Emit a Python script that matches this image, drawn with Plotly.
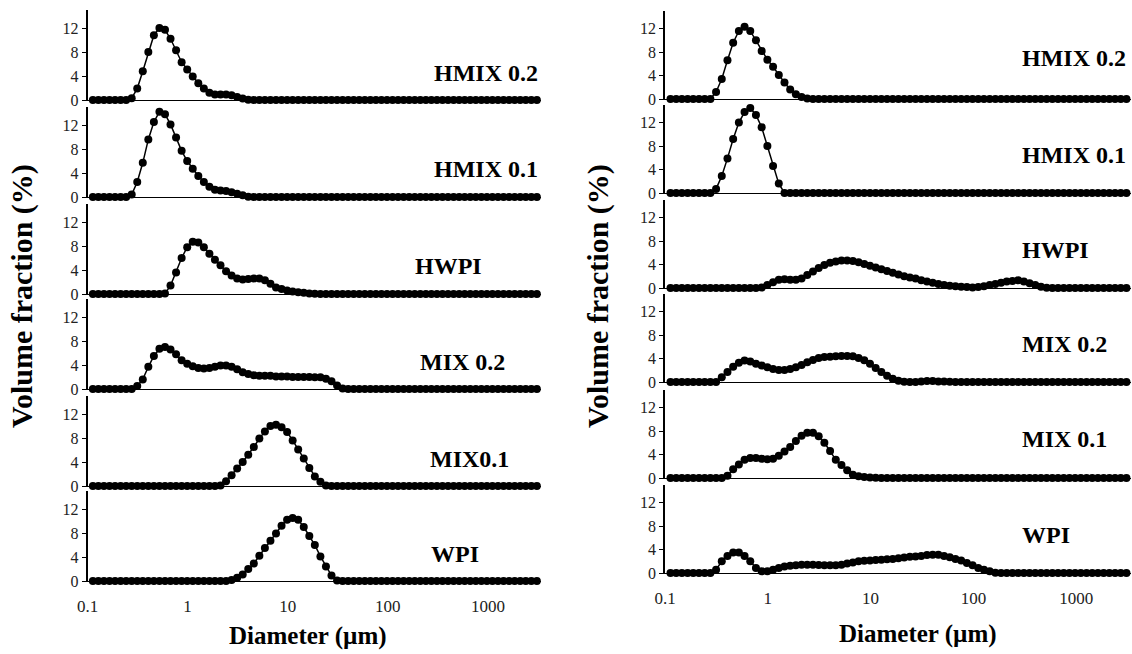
import plotly.graph_objects as go

# ---------------- data ----------------
diameter_um = [
    0.1131, 0.1285, 0.1460, 0.1659, 0.1884, 0.2141, 0.2432, 0.2763, 0.3139, 0.3566,
    0.4052, 0.4603, 0.5230, 0.5942, 0.6750, 0.7669, 0.8714, 0.9905, 1.125, 1.279,
    1.453, 1.651, 1.875, 2.131, 2.421, 2.750, 3.125, 3.550, 4.034, 4.583,
    5.207, 5.916, 6.721, 7.636, 8.676, 9.858, 11.20, 12.72, 14.46, 16.43,
    18.66, 21.21, 24.09, 27.37, 31.11, 35.34, 40.15, 45.61, 51.82, 58.88,
    66.90, 76.01, 86.36, 98.12, 111.5, 126.6, 143.9, 163.5, 185.8, 211.0,
    239.8, 272.4, 309.5, 351.7, 399.6, 454.0, 515.8, 586.0, 665.8, 756.5,
    859.5, 976.5, 1109, 1261, 1432, 1627, 1849, 2101, 2387, 2712,
    3081,
]

x_tick_values = [0.1, 1, 10, 100, 1000]
x_tick_labels = ["0.1", "1", "10", "100", "1000"]
y_tick_values = [0, 4, 8, 12]

left_labels = ["HMIX 0.2", "HMIX 0.1", "HWPI", "MIX 0.2", "MIX0.1", "WPI"]
right_labels = ["HMIX 0.2", "HMIX 0.1", "HWPI", "MIX 0.2", "MIX 0.1", "WPI"]

left_hmix02 = [
    0, 0, 0, 0, 0, 0, 0,
    0.3, 1.9, 4.8, 8.0, 10.8, 12.0, 11.7, 10.2, 8.3, 6.3, 5.1, 3.9, 2.8, 1.9, 1.2,
    0.9, 0.9, 0.9, 0.8, 0.5, 0.25, 0.05,
    0, 0, 0, 0, 0, 0, 0, 0, 0, 0,
    0, 0, 0, 0, 0, 0, 0, 0, 0, 0,
    0, 0, 0, 0, 0, 0, 0, 0, 0, 0,
    0, 0, 0, 0, 0, 0, 0, 0, 0, 0,
    0, 0, 0, 0, 0, 0, 0, 0, 0, 0,
    0, 0,
]
left_hmix01 = [
    0, 0, 0, 0, 0, 0, 0,
    0.4, 2.5, 5.7, 9.6, 12.5, 14.2, 13.8, 12.1, 9.9, 7.7, 6.0, 4.7, 3.5, 2.5, 1.7,
    1.2, 1.1, 1.0, 0.8, 0.55, 0.3, 0.05,
    0, 0, 0, 0, 0, 0, 0, 0, 0, 0,
    0, 0, 0, 0, 0, 0, 0, 0, 0, 0,
    0, 0, 0, 0, 0, 0, 0, 0, 0, 0,
    0, 0, 0, 0, 0, 0, 0, 0, 0, 0,
    0, 0, 0, 0, 0, 0, 0, 0, 0, 0,
    0, 0,
]
left_hwpi = [
    0, 0, 0, 0, 0, 0, 0, 0, 0, 0, 0, 0, 0,
    0.1, 1.4, 3.6, 6.0, 7.8, 8.7, 8.6, 7.8, 6.7, 5.7, 4.8, 3.8, 3.1, 2.6,
    2.4, 2.5, 2.6, 2.6, 2.3, 1.7, 1.1, 0.85, 0.6, 0.4, 0.3, 0.2, 0.1, 0.05,
    0, 0, 0, 0, 0, 0, 0, 0, 0, 0,
    0, 0, 0, 0, 0, 0, 0, 0, 0, 0,
    0, 0, 0, 0, 0, 0, 0, 0, 0, 0,
    0, 0, 0, 0, 0, 0, 0, 0, 0, 0,
]
left_mix02 = [
    0, 0, 0, 0, 0, 0, 0, 0,
    0.5, 1.6, 3.7, 5.5, 6.7, 7.0, 6.6, 5.8, 4.8, 4.2, 3.8, 3.5, 3.4, 3.5, 3.7,
    3.9, 3.9, 3.7, 3.3, 2.8, 2.5, 2.3, 2.2, 2.2, 2.2, 2.1, 2.1, 2.1, 2.0, 2.0,
    2.0, 2.0, 1.95, 1.95, 1.7, 1.3, 0.6, 0.1,
    0, 0, 0, 0, 0, 0, 0, 0, 0, 0,
    0, 0, 0, 0, 0, 0, 0, 0, 0, 0,
    0, 0, 0, 0, 0, 0, 0, 0, 0, 0,
    0, 0, 0, 0, 0,
]
left_mix01 = [
    0, 0, 0, 0, 0, 0, 0, 0, 0, 0,
    0, 0, 0, 0, 0, 0, 0, 0, 0, 0,
    0, 0, 0,
    0.1, 0.8, 1.8, 2.9, 4.0, 5.2, 6.5, 7.9, 9.1, 10.0, 10.2, 9.8, 9.0, 7.6,
    6.1, 4.6, 3.0, 1.6, 0.7, 0.1,
    0, 0, 0, 0, 0, 0, 0, 0, 0, 0,
    0, 0, 0, 0, 0, 0, 0, 0, 0, 0,
    0, 0, 0, 0, 0, 0, 0, 0, 0, 0,
    0, 0, 0, 0, 0, 0, 0, 0,
]
left_wpi = [
    0, 0, 0, 0, 0, 0, 0, 0, 0, 0,
    0, 0, 0, 0, 0, 0, 0, 0, 0, 0,
    0, 0, 0, 0, 0,
    0.15, 0.55, 1.1, 2.0, 2.9, 4.2, 5.5, 6.7, 7.9, 9.2, 10.2, 10.5, 10.2, 9.0,
    7.5, 6.0, 4.1, 2.4, 0.9, 0.1,
    0, 0, 0, 0, 0, 0, 0, 0, 0, 0,
    0, 0, 0, 0, 0, 0, 0, 0, 0, 0,
    0, 0, 0, 0, 0, 0, 0, 0, 0, 0,
    0, 0, 0, 0, 0, 0,
]

right_hmix02 = [
    0, 0, 0, 0, 0, 0, 0, 0,
    1.2, 3.4, 6.6, 9.6, 11.6, 12.3, 11.6, 10.0, 8.2, 6.7, 5.5, 4.1, 2.8, 1.6,
    0.8, 0.35, 0.1,
    0, 0, 0, 0, 0, 0, 0, 0, 0, 0,
    0, 0, 0, 0, 0, 0, 0, 0, 0, 0,
    0, 0, 0, 0, 0, 0, 0, 0, 0, 0,
    0, 0, 0, 0, 0, 0, 0, 0, 0, 0,
    0, 0, 0, 0, 0, 0, 0, 0, 0, 0,
    0, 0, 0, 0, 0, 0,
]
right_hmix01 = [
    0, 0, 0, 0, 0, 0, 0, 0,
    0.7, 2.9, 5.9, 9.2, 12.0, 13.8, 14.5, 13.3, 11.2, 8.0, 4.6, 1.6,
    0, 0, 0, 0, 0, 0, 0, 0, 0, 0,
    0, 0, 0, 0, 0, 0, 0, 0, 0, 0,
    0, 0, 0, 0, 0, 0, 0, 0, 0, 0,
    0, 0, 0, 0, 0, 0, 0, 0, 0, 0,
    0, 0, 0, 0, 0, 0, 0, 0, 0, 0,
    0, 0, 0, 0, 0, 0, 0, 0, 0, 0,
    0,
]
right_hwpi = [
    0, 0, 0, 0, 0, 0, 0, 0, 0, 0, 0, 0, 0, 0, 0, 0,
    0.1, 0.5, 1.0, 1.4, 1.5, 1.4, 1.4, 1.6, 2.2, 2.8, 3.4, 3.9, 4.3, 4.5, 4.7,
    4.7, 4.6, 4.4, 4.1, 3.8, 3.5, 3.2, 2.9, 2.6, 2.3, 2.0, 1.8, 1.6, 1.3, 1.1,
    0.9, 0.7, 0.5, 0.4, 0.3, 0.2, 0.15, 0.1, 0.15, 0.3, 0.5, 0.7, 0.9, 1.1, 1.2,
    1.3, 1.1, 0.8, 0.5, 0.2, 0.05,
    0, 0, 0, 0, 0, 0, 0, 0, 0, 0, 0, 0, 0, 0,
]
right_mix02 = [
    0, 0, 0, 0, 0, 0, 0, 0, 0,
    0.8, 1.7, 2.6, 3.3, 3.65, 3.5, 3.1, 2.8, 2.5, 2.2, 2.05, 2.05, 2.2, 2.5, 2.9,
    3.35, 3.75, 4.1, 4.25, 4.3, 4.37, 4.42, 4.45, 4.4, 4.1, 3.7, 3.1, 2.4, 1.7,
    1.05, 0.55, 0.2, 0.05, 0, 0, 0.1, 0.15, 0.15, 0.1, 0.1, 0.05,
    0, 0, 0, 0, 0, 0, 0, 0, 0, 0,
    0, 0, 0, 0, 0, 0, 0, 0, 0, 0,
    0, 0, 0, 0, 0, 0, 0, 0, 0, 0,
    0,
]
right_mix01 = [
    0, 0, 0, 0, 0, 0, 0, 0, 0, 0,
    0.4, 1.5, 2.3, 3.1, 3.4, 3.4, 3.3, 3.2, 3.3, 3.8, 4.5, 5.3, 6.3, 7.2, 7.7,
    7.7, 7.1, 6.0, 4.6, 3.1, 2.2, 1.3, 0.55, 0.3, 0.17, 0.1, 0.05,
    0, 0, 0, 0, 0, 0, 0, 0, 0, 0,
    0, 0, 0, 0, 0, 0, 0, 0, 0, 0,
    0, 0, 0, 0, 0, 0, 0, 0, 0, 0,
    0, 0, 0, 0, 0, 0, 0, 0, 0, 0,
    0, 0, 0, 0,
]
right_wpi = [
    0, 0, 0, 0, 0, 0, 0, 0,
    0.55, 2.0, 2.9, 3.5, 3.5, 2.9, 2.0, 0.85, 0.3, 0.3, 0.55, 0.85, 1.1, 1.25,
    1.3, 1.4, 1.4, 1.4, 1.35, 1.3, 1.3, 1.3, 1.4, 1.6, 1.8, 2.0, 2.1, 2.15,
    2.2, 2.25, 2.35, 2.4, 2.5, 2.65, 2.75, 2.8, 2.9, 3.05, 3.1, 3.1, 2.9, 2.7,
    2.4, 2.15, 1.7, 1.3, 0.85, 0.55, 0.3, 0.05,
    0, 0, 0, 0, 0, 0, 0, 0, 0, 0,
    0, 0, 0, 0, 0, 0, 0, 0, 0, 0,
    0, 0, 0,
]

left_series = [left_hmix02, left_hmix01, left_hwpi, left_mix02, left_mix01, left_wpi]
right_series = [right_hmix02, right_hmix01, right_hwpi, right_mix02, right_mix01, right_wpi]

for s in left_series + right_series:
    if len(s) != len(diameter_um):
        raise ValueError("length mismatch %d" % len(s))

# ---------------- layout geometry (pixels) ----------------
W, H = 1132, 654
SERIF = "Liberation Serif, Times New Roman, serif"


def fx(p):
    return p / W


def fy(p):
    return 1 - p / H


panels = [
    dict(x0=87.5, x1=541.0, zeros=[100, 197, 294, 389, 486, 581], h=90,
         series=left_series, labels=left_labels,
         label_pos=[(486, 73), (486, 169), (448, 266), (462, 362), (469, 459), (455, 554)],
         label_anchor="center",
         ytitle=(22, 296), xtitle=(308, 636)),
    dict(x0=665.0, x1=1130.7, zeros=[99, 193, 288, 382, 478, 573], h=88,
         series=right_series, labels=right_labels,
         label_pos=[(1020, 58), (1020, 155), (1020, 250), (1020, 344), (1020, 439), (1020, 535)],
         label_anchor="left",
         ytitle=(598, 296), xtitle=(918, 634)),
]

fig = go.Figure()
layout = dict(
    template="none",
    width=W, height=H,
    margin=dict(l=0, r=0, t=0, b=0, pad=0),
    paper_bgcolor="white", plot_bgcolor="white",
    showlegend=False,
    font=dict(family=SERIF, color="black"),
)
annotations = []

k = 0
for p in panels:
    for r in range(6):
        k += 1
        xn = "x" if k == 1 else "x%d" % k
        yn = "y" if k == 1 else "y%d" % k
        z = p["zeros"][r]
        fig.add_trace(go.Scatter(
            x=diameter_um, y=p["series"][r], mode="lines+markers",
            line=dict(color="black", width=1.5),
            marker=dict(size=8, color="black", line=dict(width=0)),
            cliponaxis=False, xaxis=xn, yaxis=yn, hoverinfo="skip",
        ))
        layout["xaxis" if k == 1 else "xaxis%d" % k] = dict(
            type="log", range=[-1, 3.53], domain=[fx(p["x0"]), fx(p["x1"])],
            anchor=yn, automargin=False,
            showline=True, linecolor="black", linewidth=1,
            showgrid=False, zeroline=False, ticks="",
            tickvals=x_tick_values, ticktext=x_tick_labels,
            showticklabels=(r == 5), ticklabelstandoff=10,
            tickfont=dict(family=SERIF, size=17, color="#222"),
        )
        layout["yaxis" if k == 1 else "yaxis%d" % k] = dict(
            range=[0, 15], domain=[fy(z), fy(z - p["h"])],
            anchor=xn, automargin=False,
            showline=True, linecolor="black", linewidth=1.5,
            showgrid=False, zeroline=False, ticks="outside", ticklen=4,
            tickcolor="black", tickwidth=1,
            tickvals=y_tick_values,
            tickfont=dict(family=SERIF, size=16, color="#222"),
        )
        lx, ly = p["label_pos"][r]
        annotations.append(dict(
            text="<b>%s</b>" % p["labels"][r], xref="paper", yref="paper",
            x=fx(lx), y=fy(ly), xanchor=p["label_anchor"], yanchor="middle",
            showarrow=False, font=dict(family=SERIF, size=24, color="black"),
        ))
    tx, ty = p["ytitle"]
    annotations.append(dict(
        text="<b>Volume fraction (%)</b>", xref="paper", yref="paper",
        x=fx(tx), y=fy(ty), xanchor="center", yanchor="middle", textangle=-90,
        showarrow=False, font=dict(family=SERIF, size=30, color="black"),
    ))
    tx, ty = p["xtitle"]
    annotations.append(dict(
        text="<b>Diameter (µm)</b>", xref="paper", yref="paper",
        x=fx(tx), y=fy(ty), xanchor="center", yanchor="middle",
        showarrow=False, font=dict(family=SERIF, size=25, color="black"),
    ))

layout["annotations"] = annotations
fig.update_layout(**layout)
fig.write_html("out.html")
